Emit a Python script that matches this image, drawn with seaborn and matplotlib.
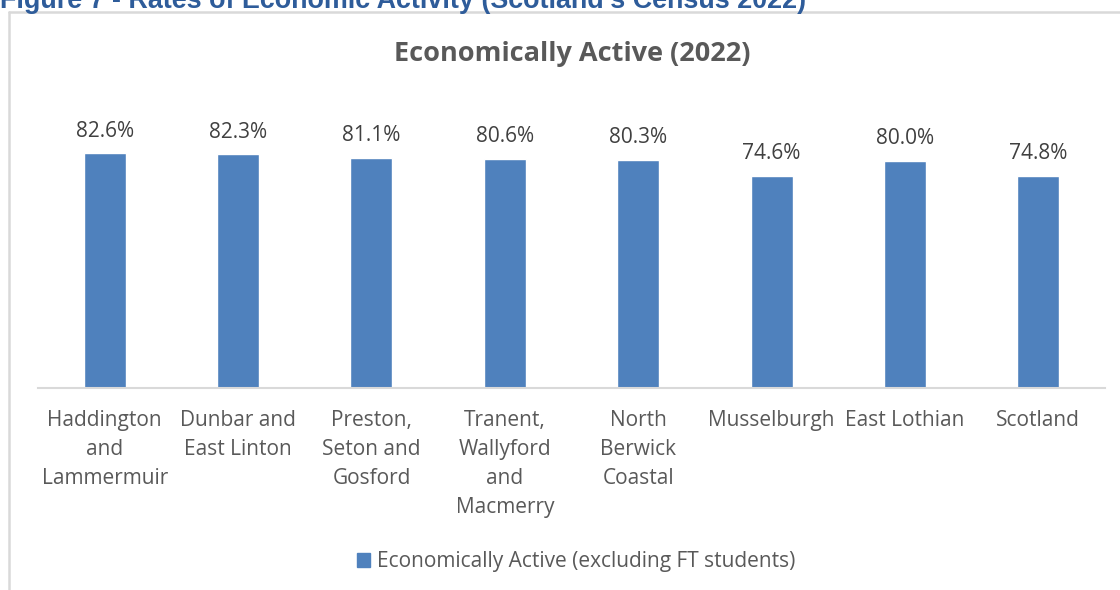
import matplotlib
matplotlib.use("Agg")
import matplotlib.pyplot as plt
import matplotlib.patches as mpatches
import seaborn as sns
import pandas as pd

# données
areas = [
    "Haddington\nand\nLammermuir",
    "Dunbar and\nEast Linton",
    "Preston,\nSeton and\nGosford",
    "Tranent,\nWallyford\nand\nMacmerry",
    "North\nBerwick\nCoastal",
    "Musselburgh",
    "East Lothian",
    "Scotland",
]
active_pct = [82.6, 82.3, 81.1, 80.6, 80.3, 74.6, 80.0, 74.8]
series_name = "Economically Active (excluding FT students)"

BAR = "#4F81BD"
TXT = "#595959"

sns.set_theme(style="white")
plt.rcParams["font.family"] = ["Open Sans", "DejaVu Sans"]

df = pd.DataFrame({"area": areas, "pct": active_pct})

fig = plt.figure(figsize=(11.2, 5.9), dpi=100)
ax = fig.add_axes([38 / 1120, 202 / 590, 1067 / 1120, 284 / 590])

sns.barplot(data=df, x="area", y="pct", color=BAR, width=0.315, saturation=1, ax=ax)

for i, v in enumerate(active_pct):
    ax.text(i, v + 7.8, f"{v:.1f}%", ha="center", va="center", fontsize=15, color="#404040")

ax.set_ylim(0, 100)
ax.set_xlim(-0.5, len(areas) - 0.5)
ax.set_yticks([])
ax.set_xlabel("")
ax.set_ylabel("")
for s in ["top", "left", "right"]:
    ax.spines[s].set_visible(False)
ax.spines["bottom"].set_color("#D9D9D9")
ax.spines["bottom"].set_linewidth(1.5)
ax.tick_params(axis="x", length=0, pad=16, labelsize=15, labelcolor=TXT)
for lab in ax.get_xticklabels():
    lab.set_linespacing(1.5)
    lab.set_verticalalignment("top")

fig.text(572 / 1120, 1 - 54 / 590, "Economically Active (2022)", ha="center", va="center",
         fontsize=19.5, fontweight="bold", color=TXT)

# légende en bas
handle = mpatches.Patch(color=BAR, label=series_name)
fig.legend(handles=[handle], loc="center", bbox_to_anchor=(576 / 1120, 1 - 562 / 590),
           frameon=False, fontsize=15, labelcolor=TXT, handlelength=0.65, handleheight=0.65,
           handletextpad=0.3)

# cadre du graphique
fig.add_artist(plt.Line2D([9 / 1120, 9 / 1120], [0, 1 - 12 / 590], color="#D9D9D9", lw=1.8))
fig.add_artist(plt.Line2D([9 / 1120, 1], [1 - 12 / 590, 1 - 12 / 590], color="#D9D9D9", lw=1.8))

# titre de la figure, coupé en haut
fig.text(0, 1 - 8 / 590, "Figure 7 - Rates of Economic Activity (Scotland's Census 2022)",
         ha="left", va="baseline", fontsize=19.4, fontweight="bold", color="#2E5C9A",
         family=["Liberation Sans", "DejaVu Sans"])

fig.savefig("out.png", dpi=100)
